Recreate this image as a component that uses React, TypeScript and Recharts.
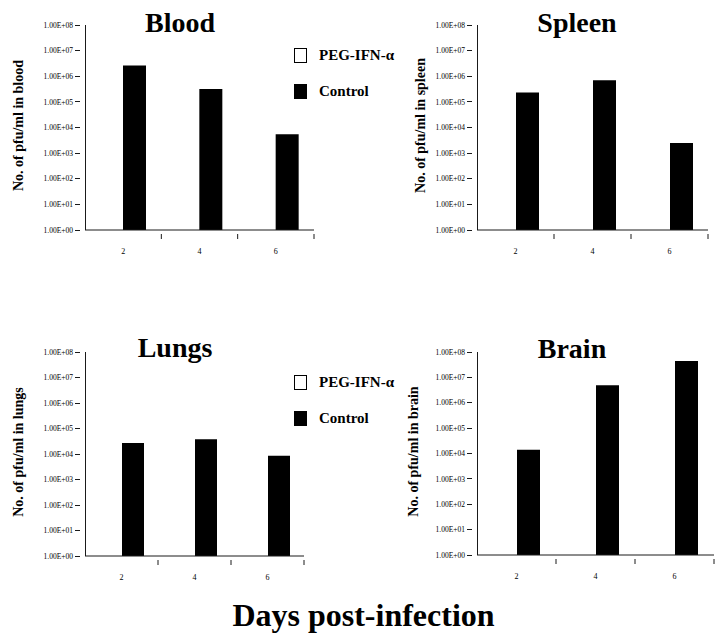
import React from "react";
import { BarChart, Bar, XAxis, YAxis, Legend } from "recharts";

// days post-infection
const days = ["2", "4", "6"];
const yTicks = [1, 10, 100, 1e3, 1e4, 1e5, 1e6, 1e7, 1e8];
const legendOrder = ["PEG-IFN-α", "Control"];

// PEG-IFN-α groups: nothing detected, no bars drawn
const pegBlood = [null, null, null];
const pegSpleen = [null, null, null];
const pegLungs = [null, null, null];
const pegBrain = [null, null, null];

// Control groups (pfu/ml)
const bloodControl = [2.6e6, 3.2e5, 5.5e3];
const spleenControl = [2.3e5, 7.0e5, 2.5e3];
const lungsControl = [2.7e4, 3.8e4, 8.5e3];
const brainControl = [1.4e4, 4.9e6, 4.4e7];

const SERIF = '"Liberation Serif", "DejaVu Serif", serif';
const INK = "#1a1a1a";
const X_TICK_GAP = 12;
const Y_TICK_GAP = 6;

const sci = (v: number) => `1.00E+${String(Math.round(Math.log10(v))).padStart(2, "0")}`;

function toRows(peg: (number | null)[], control: number[]) {
  return days.map((day, i) => ({ day, peg: peg[i], control: control[i] }));
}

// day label under the category, plus the Excel-style tick mark on the category's right edge
function DayTick(props: any) {
  const { x, y, payload } = props;
  const half = payload && payload.offset ? payload.offset : 0;
  const axisY = y - X_TICK_GAP;
  return (
    <g>
      <line x1={x + half} x2={x + half} y1={axisY - 2} y2={axisY + 3} stroke={INK} />
      <text x={x} y={y} dy="0.71em" textAnchor="middle" fontSize={8} fill="#000">
        {payload.value}
      </text>
    </g>
  );
}

// scientific label with its small tick mark on the value axis
function PfuTick(props: any) {
  const { x, y, payload } = props;
  const axisX = x + Y_TICK_GAP;
  return (
    <g>
      <line x1={axisX - 4} x2={axisX + 1} y1={y} y2={y} stroke={INK} shapeRendering="crispEdges" />
      <text x={x} y={y} dy="0.355em" textAnchor="end" fontSize={7.5} fill="#000">
        {sci(payload.value)}
      </text>
    </g>
  );
}

function LegendBox({ payload }: any) {
  const items = [...(payload || [])].sort(
    (a: any, b: any) => legendOrder.indexOf(a.value) - legendOrder.indexOf(b.value)
  );
  return (
    <div style={{ fontFamily: SERIF, fontWeight: 700, fontSize: 15, color: "#000" }}>
      {items.map((entry: any, i: number) => (
        <div
          key={entry.value}
          style={{ display: "flex", alignItems: "center", height: 15, marginBottom: i === 0 ? 21 : 0 }}
        >
          <span
            style={{
              display: "inline-block",
              width: 13,
              height: 15,
              boxSizing: "border-box",
              border: "1px solid #000",
              background: entry.color,
            }}
          />
          <span style={{ marginLeft: 12, lineHeight: "15px" }}>{entry.value}</span>
        </div>
      ))}
    </div>
  );
}

type Box = { left: number; top: number; width: number; height: number; right: number; bar: number; labelX: number; titleX: number; titleY: number };

function Organ({ title, yLabel, peg, control, box, showLegend }: { title: string; yLabel: string; peg: (number | null)[]; control: number[]; box: Box; showLegend?: boolean }) {
  const rows = toRows(peg, control);
  return (
    <div style={{ position: "absolute", left: box.left, top: box.top }}>
      <BarChart
        width={box.width}
        height={box.height}
        data={rows}
        margin={{ top: 25, right: box.right, bottom: 0, left: 0 }}
        barGap={0}
        barSize={box.bar}
      >
        <XAxis
          dataKey="day"
          height={30}
          stroke={INK}
          tickLine={false}
          tickMargin={X_TICK_GAP}
          tick={<DayTick />}
        />
        <YAxis
          scale="log"
          domain={[1, 1e8]}
          ticks={yTicks}
          allowDataOverflow
          width={85}
          axisLine={false}
          tickLine={false}
          tickMargin={Y_TICK_GAP}
          stroke={INK}
          tick={<PfuTick />}
          label={{
            content: (p: any) => {
              const vb = p.viewBox || { x: 0, y: 25, width: 85, height: 205 };
              const cy = vb.y + vb.height / 2 - 2;
              const ax = vb.x + vb.width;
              return (
                <g>
                  {/* value-axis line along the axis box edge */}
                  <line x1={ax} x2={ax} y1={vb.y} y2={vb.y + vb.height} stroke={INK} strokeWidth={1} shapeRendering="crispEdges" />
                  <text
                    x={box.labelX}
                    y={cy}
                    transform={`rotate(-90, ${box.labelX}, ${cy})`}
                    textAnchor="middle"
                    dominantBaseline="central"
                    fontFamily={SERIF}
                    fontWeight={700}
                    fontSize={14}
                    fill="#000"
                  >
                    {yLabel}
                  </text>
                </g>
              );
            },
          }}
        />
        {showLegend && (
          <Legend
            layout="vertical"
            align="center"
            verticalAlign="middle"
            content={<LegendBox />}
            wrapperStyle={{ top: 48, left: 294, width: 130 }}
          />
        )}
        <Bar dataKey="peg" name="PEG-IFN-α" fill="#ffffff" isAnimationActive={false} />
        <Bar dataKey="control" name="Control" fill="#000000" isAnimationActive={false} />
        <text
          x={box.titleX}
          y={box.titleY}
          textAnchor="middle"
          fontFamily={SERIF}
          fontWeight={700}
          fontSize={28}
          fill="#000"
        >
          {title}
        </text>
      </BarChart>
    </div>
  );
}

const bloodBox: Box = { left: 0, top: 0, width: 340, height: 260, right: 26, bar: 23, labelX: 18, titleX: 180, titleY: 32 };
const spleenBox: Box = { left: 392, top: 0, width: 330, height: 260, right: 14, bar: 23, labelX: 28, titleX: 185, titleY: 32 };
const lungsBox: Box = { left: 0, top: 327, width: 330, height: 259, right: 26, bar: 22, labelX: 18, titleX: 175, titleY: 30 };
const brainBox: Box = { left: 392, top: 327, width: 330, height: 258, right: 8, bar: 23, labelX: 21, titleX: 180, titleY: 31 };

export default function App() {
  return (
    <div style={{ position: "absolute", left: 0, top: 0, width: 727, height: 643, background: "#fff", overflow: "hidden" }}>
      <Organ title="Blood" yLabel="No. of pfu/ml in blood" peg={pegBlood} control={bloodControl} box={bloodBox} showLegend />
      <Organ title="Spleen" yLabel="No. of pfu/ml in spleen" peg={pegSpleen} control={spleenControl} box={spleenBox} />
      <Organ title="Lungs" yLabel="No. of pfu/ml in lungs" peg={pegLungs} control={lungsControl} box={lungsBox} showLegend />
      <Organ title="Brain" yLabel="No. of pfu/ml in brain" peg={pegBrain} control={brainControl} box={brainBox} />
      <div
        style={{
          position: "absolute",
          left: 0,
          top: 599,
          width: 727,
          textAlign: "center",
          fontFamily: SERIF,
          fontWeight: 700,
          fontSize: 32,
          lineHeight: "32px",
          color: "#000",
        }}
      >
        Days post-infection
      </div>
    </div>
  );
}
